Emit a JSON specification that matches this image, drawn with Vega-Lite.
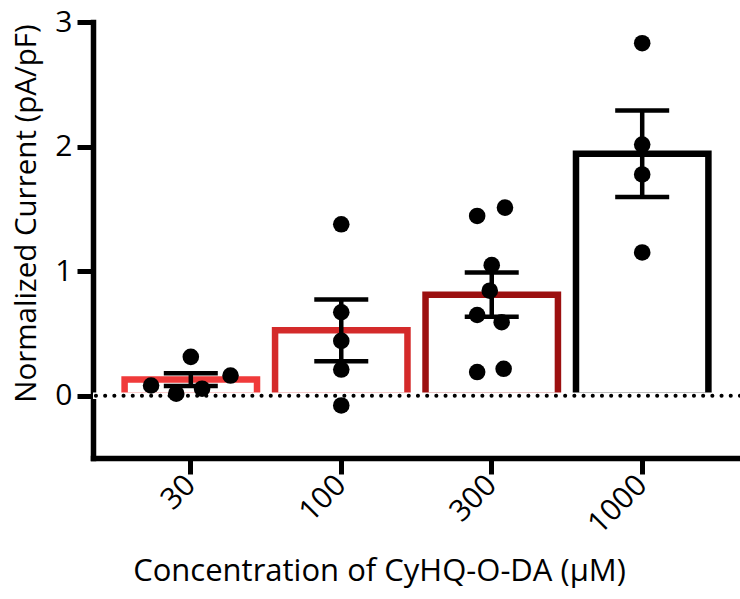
{
  "$schema": "https://vega.github.io/schema/vega-lite/v6.json",
  "autosize": "none",
  "width": 647,
  "height": 436,
  "padding": {"left": 93, "top": 22, "right": 0, "bottom": 141},
  "background": "white",
  "config": {
    "view": {"stroke": null},
    "font": "Open Sans",
    "axis": {
      "domainColor": "black",
      "tickColor": "black",
      "labelColor": "black",
      "titleColor": "black",
      "grid": false,
      "domainWidth": 5.5,
      "domainCap": "square",
      "tickWidth": 5,
      "tickSize": 16,
      "labelFontSize": 30,
      "titleFontSize": 30,
      "titleFontWeight": "normal",
      "labelFont": "Open Sans",
      "titleFont": "Open Sans",
      "zindex": 1
    }
  },
  "resolve": {"scale": {"xOffset": "independent"}},
  "datasets": {
    "summary": [
      {"conc": "30", "mean": 0.13, "lo": 0.078, "hi": 0.18},
      {"conc": "100", "mean": 0.525, "lo": 0.277, "hi": 0.772},
      {"conc": "300", "mean": 0.81, "lo": 0.634, "hi": 0.99},
      {"conc": "1000", "mean": 1.943, "lo": 1.595, "hi": 2.29}
    ],
    "points": [
      {"conc": "30", "value": 0.082, "dx": -0.6},
      {"conc": "30", "value": 0.016, "dx": -0.22},
      {"conc": "30", "value": 0.312, "dx": 0.0},
      {"conc": "30", "value": 0.056, "dx": 0.17},
      {"conc": "30", "value": 0.162, "dx": 0.6},
      {"conc": "100", "value": 1.376, "dx": 0.0},
      {"conc": "100", "value": 0.67, "dx": 0.0},
      {"conc": "100", "value": 0.44, "dx": 0.0},
      {"conc": "100", "value": 0.21, "dx": 0.0},
      {"conc": "100", "value": -0.078, "dx": 0.0},
      {"conc": "300", "value": 1.443, "dx": -0.22},
      {"conc": "300", "value": 1.51, "dx": 0.2},
      {"conc": "300", "value": 1.048, "dx": 0.0},
      {"conc": "300", "value": 0.843, "dx": -0.03},
      {"conc": "300", "value": 0.648, "dx": -0.22},
      {"conc": "300", "value": 0.59, "dx": 0.15},
      {"conc": "300", "value": 0.19, "dx": -0.22},
      {"conc": "300", "value": 0.216, "dx": 0.18},
      {"conc": "1000", "value": 2.83, "dx": 0.0},
      {"conc": "1000", "value": 2.016, "dx": 0.0},
      {"conc": "1000", "value": 1.776, "dx": 0.0},
      {"conc": "1000", "value": 1.15, "dx": 0.0}
    ]
  },
  "layer": [
    {
      "data": {"name": "summary"},
      "mark": {"type": "bar", "fill": "white", "strokeWidth": 6.5},
      "encoding": {
        "x": {
          "field": "conc",
          "type": "nominal",
          "sort": ["30", "100", "300", "1000"],
          "scale": {"paddingInner": 0.12, "paddingOuter": 0.21},
          "axis": {
            "title": "Concentration of CyHQ-O-DA (µM)",
            "titleX": 286,
            "titleY": 122,
            "titleAlign": "center",
            "titleBaseline": "alphabetic",
            "titleFontSize": 31,
            "labelAngle": -45,
            "labelAlign": "right",
            "labelBaseline": "middle",
            "labelPadding": 6
          }
        },
        "y": {
          "field": "mean",
          "type": "quantitative",
          "scale": {"domain": [-0.5, 3], "nice": false, "zero": false},
          "axis": {
            "title": "Normalized Current (pA/pF)",
            "values": [0, 1, 2, 3],
            "format": "d",
            "labelPadding": 5,
            "titleX": -58,
            "titleY": 191,
            "titleAlign": "center",
            "titleBaseline": "alphabetic",
            "titleAngle": -90,
            "titleFontSize": 29.5
          }
        },
        "stroke": {
          "field": "conc",
          "type": "nominal",
          "scale": {"domain": ["30", "100", "300", "1000"], "range": ["#f03a3a", "#d42a2a", "#9c1010", "#000000"]},
          "legend": null
        }
      }
    },
    {
      "data": {"values": [{"zero": 0}]},
      "mark": {"type": "rule", "stroke": "white", "strokeWidth": 6.6},
      "encoding": {"y": {"field": "zero", "type": "quantitative"}}
    },
    {
      "data": {"values": [{"zero": 0}]},
      "mark": {"type": "rule", "stroke": "black", "strokeWidth": 4, "strokeDash": [0.1, 9.1], "strokeCap": "round"},
      "encoding": {"y": {"field": "zero", "type": "quantitative"}}
    },
    {
      "data": {"name": "summary"},
      "mark": {"type": "rule", "stroke": "black", "strokeWidth": 4.5},
      "encoding": {
        "x": {"field": "conc", "type": "nominal", "sort": ["30", "100", "300", "1000"]},
        "y": {"field": "lo", "type": "quantitative"},
        "y2": {"field": "hi"}
      }
    },
    {
      "data": {"name": "summary"},
      "mark": {"type": "tick", "color": "black", "size": 54, "thickness": 4.5, "opacity": 1},
      "encoding": {
        "x": {"field": "conc", "type": "nominal", "sort": ["30", "100", "300", "1000"]},
        "y": {"field": "lo", "type": "quantitative"}
      }
    },
    {
      "data": {"name": "summary"},
      "mark": {"type": "tick", "color": "black", "size": 54, "thickness": 4.5, "opacity": 1},
      "encoding": {
        "x": {"field": "conc", "type": "nominal", "sort": ["30", "100", "300", "1000"]},
        "y": {"field": "hi", "type": "quantitative"}
      }
    },
    {
      "data": {"name": "points"},
      "mark": {"type": "circle", "color": "black", "size": 275, "opacity": 1},
      "encoding": {
        "x": {"field": "conc", "type": "nominal", "sort": ["30", "100", "300", "1000"]},
        "xOffset": {"field": "dx", "type": "quantitative", "scale": {"domain": [-1, 1]}},
        "y": {"field": "value", "type": "quantitative"}
      }
    }
  ]
}
